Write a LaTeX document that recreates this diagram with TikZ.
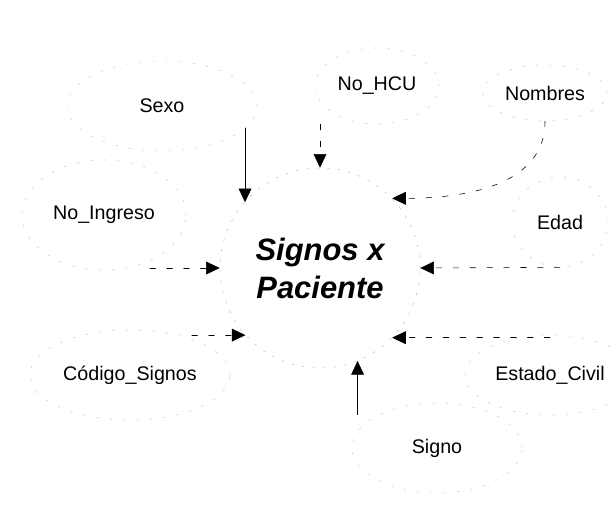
\documentclass[tikz,border=0pt]{standalone}
\usepackage{fontspec}
\setmainfont{Liberation Sans}
\usetikzlibrary{arrows.meta,shapes.geometric}

\begin{document}
\begin{tikzpicture}[x=0.025cm, y=-0.025cm, >={Triangle[length=0.34cm,width=0.32cm]}, font=\fontsize{14}{16}\selectfont, line join=round, line cap=round,
	attr/.style={ellipse, draw=gray!40, dash pattern=on 1.5pt off 8pt, inner sep=0pt},
	flecha/.style={->, thin},
	tenue/.style={->, thin, dash pattern=on 4pt off 8pt}]
	\useasboundingbox (0,0) rectangle (610,521);
	\begin{scope}
		\clip (0,0) rectangle (610,521);
		\node[circle, draw=gray!50, dash pattern=on 1.5pt off 6pt, minimum size=5cm, inner sep=0pt, align=center, font=\fontsize{22}{27}\selectfont\bfseries\itshape] (pac) at (320,268) {Signos x\\Paciente};
		% atributos
		\node[attr, minimum width=4.75cm, minimum height=2.25cm] (sexo) at (162,106) {Sexo};
		\node[attr, minimum width=4.1cm, minimum height=2.75cm] (ingreso) at (104,215) {No\_Ingreso};
		\node[attr, minimum width=3.1cm, minimum height=1.9cm] (hcu) at (377,86) {No\_HCU};
		\node[attr, minimum width=3.1cm, minimum height=1.4cm] (nombres) at (545,93) {Nombres};
		\node[attr, minimum width=2.4cm, minimum height=2.25cm] (edad) at (560,222) {Edad};
		\node[attr, minimum width=4.25cm, minimum height=2cm] (estado) at (550,375) {Estado\_Civil};
		\node[attr, minimum width=4.25cm, minimum height=2.25cm] (signo) at (437,448) {Signo};
		\node[attr, minimum width=5cm, minimum height=2.25cm] (codigo) at (130,375) {Código\_Signos};
		% conectores
		\draw[flecha] (sexo.-15) -- (sexo.-15 |- pac.139);
		\draw[tenue] (hcu.south -| pac.north) -- (pac.north);
		\draw[tenue] (nombres.south) to[out=-90,in=0] (pac.44);
		\draw[tenue] (edad.south) -- (pac.east);
		\draw[tenue] (pac.-44 -| estado.north) -- (pac.-44);
		\draw[flecha] (pac.-68 |- signo.150) -- (pac.-68);
		\draw[tenue] (ingreso.-45 |- pac.west) -- (pac.west);
		\draw[tenue] (codigo.30 |- pac.222) -- (pac.222);
	\end{scope}
\end{tikzpicture}
\end{document}
